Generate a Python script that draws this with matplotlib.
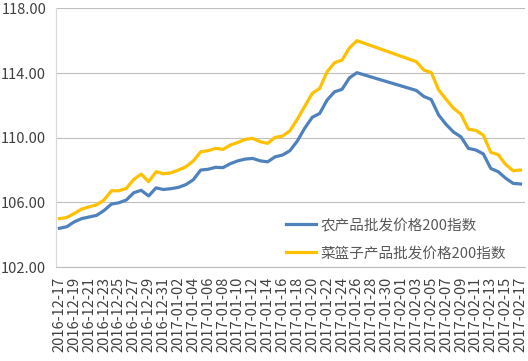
import matplotlib
matplotlib.use("Agg")
import matplotlib.pyplot as plt
import pandas as pd

plt.rcParams['font.family'] = ['Noto Sans CJK SC', 'DejaVu Sans']

# daily dates, Spring Festival days have no data
all_days = pd.date_range('2016-12-17', '2017-02-17', freq='D')
missing = pd.date_range('2017-01-27', '2017-02-02', freq='D')
dates = all_days.difference(missing)

agri = [104.40, 104.50, 104.80, 105.00, 105.10, 105.20, 105.50, 105.90, 105.98, 106.15,
        106.60, 106.75, 106.40, 106.90, 106.80, 106.85, 106.93, 107.10, 107.40, 108.00,
        108.05, 108.17, 108.15, 108.40, 108.57, 108.68, 108.72, 108.57, 108.51, 108.82,
        108.93, 109.20, 109.80, 110.60, 111.26, 111.50, 112.33, 112.84, 112.99, 113.70,
        114.02,
        112.92, 112.55, 112.36, 111.40, 110.82, 110.35, 110.05, 109.34, 109.24, 109.00,
        108.10, 107.90, 107.50, 107.18, 107.14]

basket = [105.00, 105.07, 105.32, 105.59, 105.73, 105.85, 106.15, 106.72, 106.72, 106.87,
          107.42, 107.75, 107.28, 107.90, 107.77, 107.83, 108.00, 108.20, 108.56, 109.13,
          109.20, 109.34, 109.28, 109.55, 109.71, 109.90, 109.96, 109.75, 109.65, 110.02,
          110.10, 110.43, 111.15, 111.95, 112.74, 113.05, 114.08, 114.64, 114.80, 115.55,
          116.00,
          114.70, 114.18, 114.03, 112.95, 112.37, 111.82, 111.45, 110.52, 110.45, 110.16,
          109.10, 108.95, 108.35, 107.96, 108.00]

names = ['农产品批发价格200指数', '菜篮子产品批发价格200指数']
y_ticks = [102, 106, 110, 114, 118]

fig = plt.figure(figsize=(5.28, 3.61), dpi=100)
ax = fig.add_axes([0.106, 0.260, 0.888, 0.717])

ax.plot(dates, agri, color='#4F81BD', linewidth=2.3, label=names[0])
ax.plot(dates, basket, color='#FFC000', linewidth=2.3, label=names[1])

ax.set_xlim(all_days[0] - pd.Timedelta(hours=11), all_days[-1] + pd.Timedelta(hours=14))
ax.set_ylim(102, 118)
ax.set_yticks(y_ticks)
ax.set_yticklabels([f'{v:.2f}' for v in y_ticks])
ax.set_xticks(all_days[::2])
ax.set_xticklabels([d.strftime('%Y-%m-%d') for d in all_days[::2]], rotation=90)

ax.grid(axis='y', color='#BFBFBF', linewidth=0.8)
ax.set_axisbelow(True)
for s in ['top', 'right']:
    ax.spines[s].set_visible(False)
ax.spines['left'].set_color('#D9D9D9')
ax.spines['bottom'].set_color('#BFBFBF')
ax.tick_params(axis='both', length=0, colors='#404040')
ax.tick_params(axis='y', labelsize=10.5, pad=7)
ax.tick_params(axis='x', labelsize=10.5, pad=7)

leg = ax.legend(loc='upper left', bbox_to_anchor=(0.49, 0.19), frameon=False,
                fontsize=10.5, handlelength=2.1, handletextpad=0.3, labelspacing=1.0,
                borderaxespad=0, borderpad=0)
for t in leg.get_texts():
    t.set_color('#595959')

fig.savefig('out.png', dpi=100)
